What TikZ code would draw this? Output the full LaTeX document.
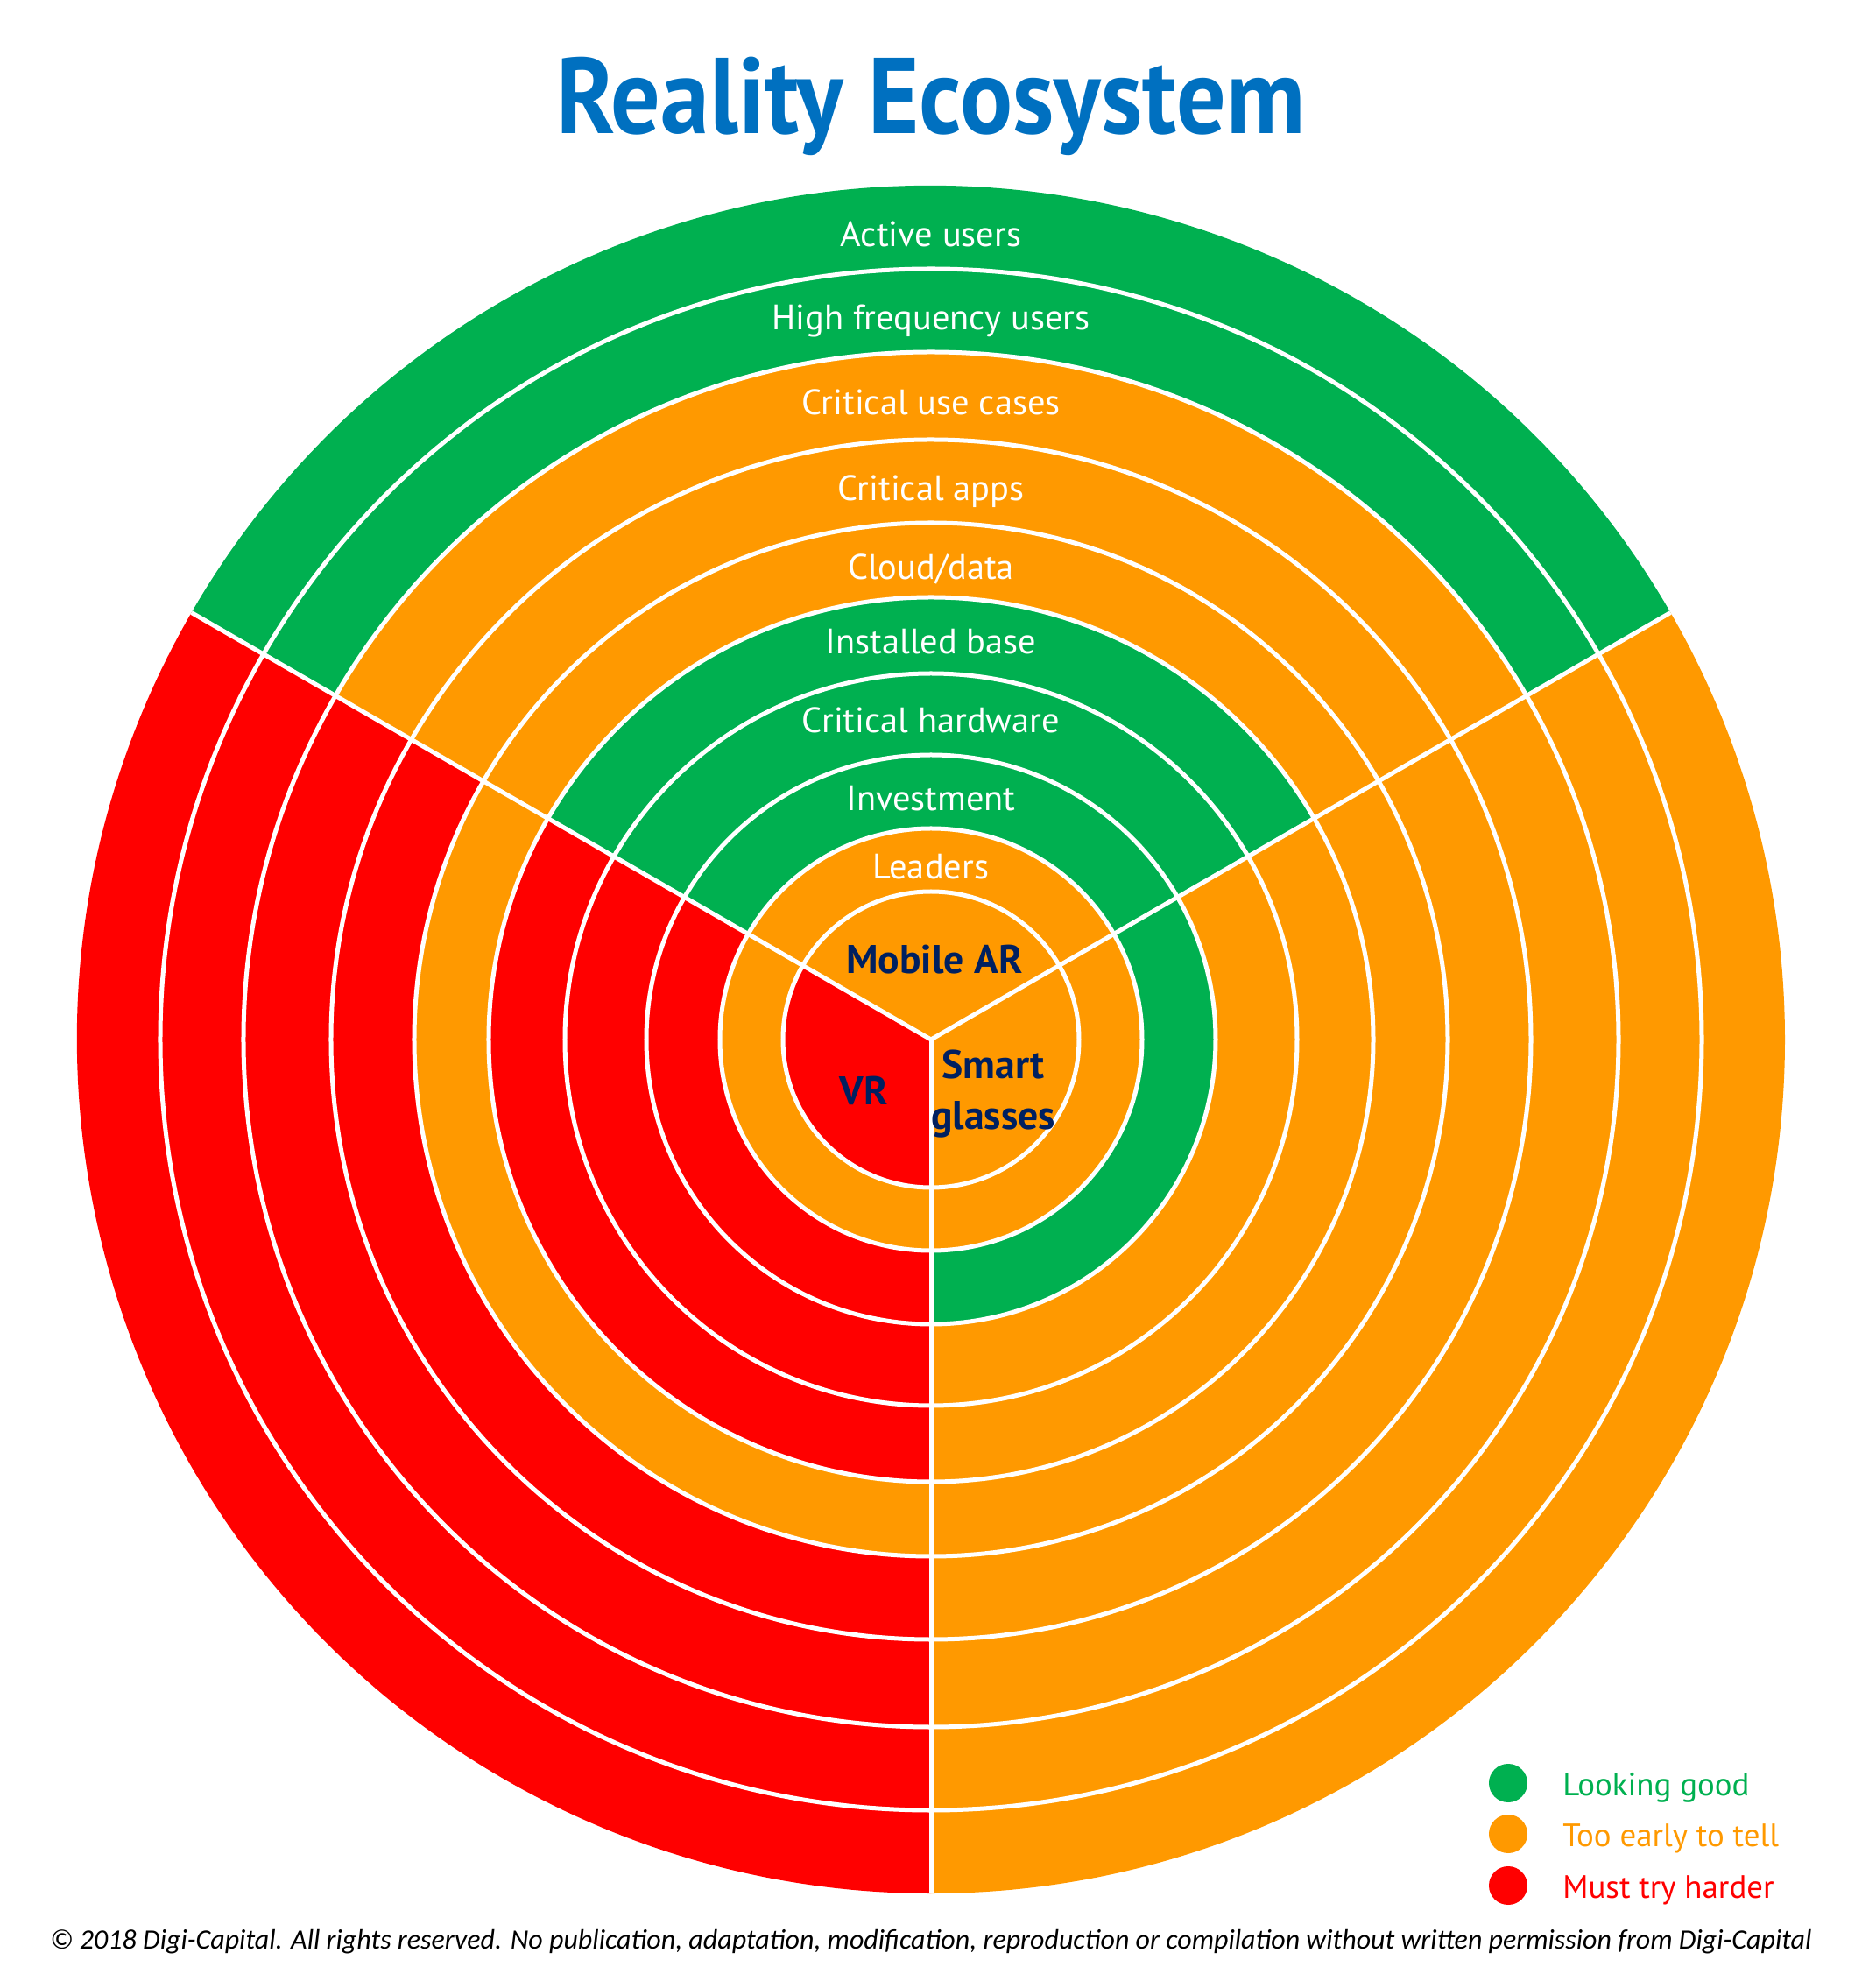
\documentclass[tikz,border=0pt]{standalone}
\usepackage{fontspec}
\setmainfont{PT Sans}
\newfontfamily\titlefont[FakeStretch=0.91]{PT Sans}
\newfontfamily\notefont{Carlito}
\usetikzlibrary{positioning}
\definecolor{good}{HTML}{00B050}
\definecolor{early}{HTML}{FF9900}
\definecolor{harder}{HTML}{FF0000}
\definecolor{titleblue}{HTML}{0070C0}
\definecolor{navy}{HTML}{002060}

\begin{document}
\begin{tikzpicture}[
  ringlabel/.style={anchor=base, text=white, inner sep=0pt,
    font=\fontsize{11.5}{13}\selectfont},
  device/.style={text=navy, inner sep=0pt, align=center,
    font=\bfseries\fontsize{13}{16.5}\selectfont},
  divider/.style={white, line width=0.05cm},
  legdot/.style={circle, minimum size=0.44cm, inner sep=0pt},
  legtext/.style={inner sep=0pt, text height=0.28cm, text depth=0pt,
    font=\fontsize{10.5}{12.5}\selectfont}
]
  \useasboundingbox (-10.63,-10.59) rectangle (10.78,11.87);

  % ring sectors, outermost first: Mobile AR / Smart glasses / VR
  \foreach \r/\colAR/\colSG/\colVR in {9.75/good/early/harder,
      8.80/good/early/harder, 7.85/early/early/harder, 6.85/early/early/harder,
      5.90/early/early/early, 5.05/good/early/harder, 4.18/good/early/harder,
      3.25/good/good/harder, 2.41/early/early/early, 1.69/early/early/harder}{
    \fill[\colAR] (0,0) -- (30:\r) arc[start angle=30, end angle=150, radius=\r] -- cycle;
    \fill[\colSG] (0,0) -- (-90:\r) arc[start angle=-90, end angle=30, radius=\r] -- cycle;
    \fill[\colVR] (0,0) -- (150:\r) arc[start angle=150, end angle=270, radius=\r] -- cycle;
  }
  \foreach \r in {1.69,2.41,3.25,4.18,5.05,5.90,6.85,7.85,8.80}
    \draw[divider] (0,0) circle[radius=\r];
  \coordinate (hub) at (0,0);
  \foreach \a in {30,150,270}
    \draw[divider] (hub) -- (\a:9.75);

  \node[font=\titlefont\bfseries\fontsize{35}{40}\selectfont, text=titleblue,
    anchor=base] (title) at (0,10.34) {Reality Ecosystem};

  \node[ringlabel] (active) at (0,9.05) {Active users};
  \node[ringlabel] (highfreq) at (0,8.10) {High frequency users};
  \node[ringlabel] (usecases) at (0,7.13) {Critical use cases};
  \node[ringlabel] (apps) at (0,6.15) {Critical apps};
  \node[ringlabel] (cloud) at (0,5.25) {Cloud/data};
  \node[ringlabel] (base) at (0,4.40) {Installed base};
  \node[ringlabel] (hardware) at (0,3.50) {Critical hardware};
  \node[ringlabel] (invest) at (0,2.61) {Investment};
  \node[ringlabel] (leaders) at (0,1.83) {Leaders};

  \node[device, anchor=base] (mobile) at (0.04,0.75) {Mobile AR};
  \node[device] (glasses) at (0.71,-0.62) {Smart\\glasses};
  \node[device, anchor=base] (vr) at (-0.77,-0.75) {VR};

  \node[legdot, fill=good] (gooddot) at (6.59,-8.49) {};
  \node[legdot, fill=early] (earlydot) at (6.59,-9.07) {};
  \node[legdot, fill=harder] (harderdot) at (6.59,-9.66) {};
  \node[legtext, text=good, right=0.39cm of gooddot] (goodtext) {Looking good};
  \node[legtext, text=early, right=0.39cm of earlydot] (earlytext) {Too early to tell};
  \node[legtext, text=harder, right=0.39cm of harderdot] (hardertext) {Must try harder};

  \node[font=\notefont\itshape\fontsize{9.1}{11}\selectfont, anchor=base,
    inner sep=0pt] (rights) at (0,-10.38)
    {© 2018 Digi-Capital. All rights reserved. No publication, adaptation, modification, reproduction or compilation without written permission from Digi-Capital};
\end{tikzpicture}
\end{document}
